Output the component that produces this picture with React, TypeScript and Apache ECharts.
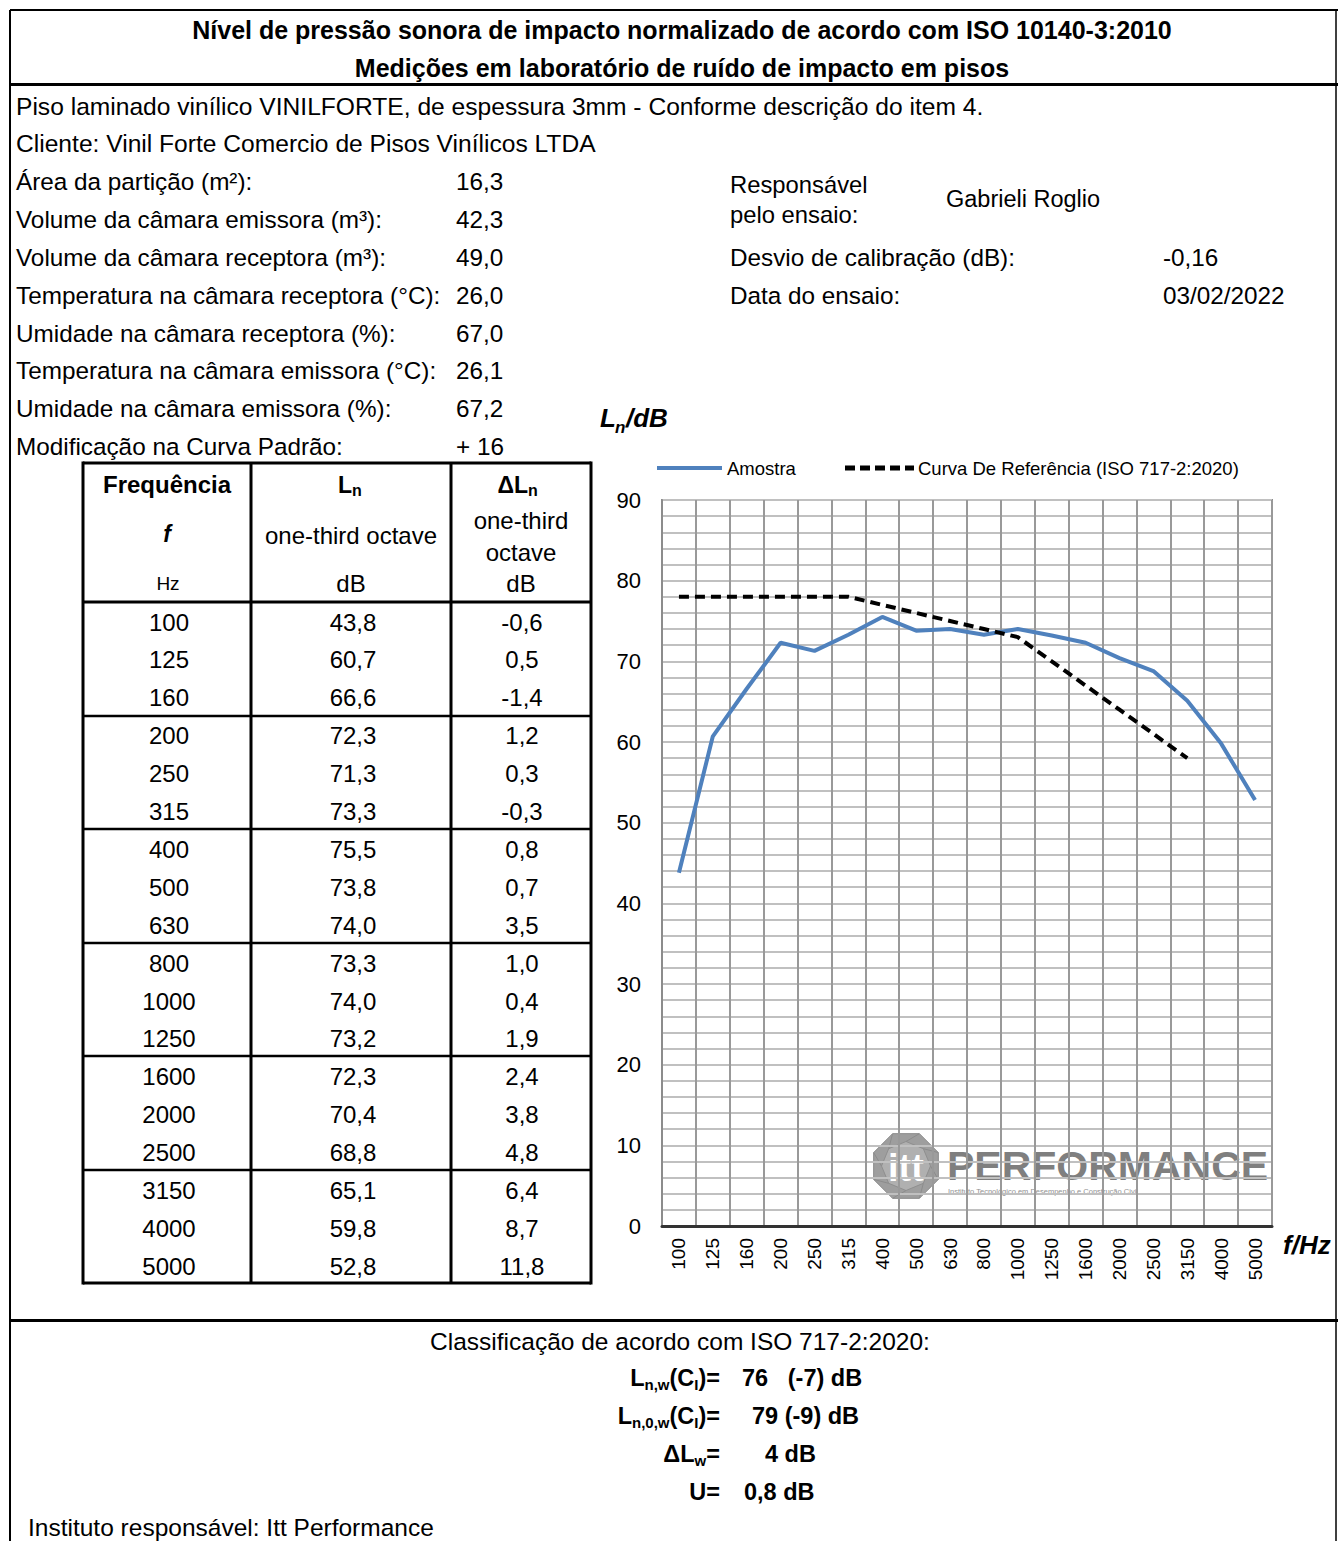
import React, { useEffect, useRef } from 'react';
import * as echarts from 'echarts';

const FONT = '"Liberation Sans", Arial, Helvetica, sans-serif';

const frequencies = ['100', '125', '160', '200', '250', '315', '400', '500', '630', '800', '1000', '1250', '1600', '2000', '2500', '3150', '4000', '5000'];
const lnValues = [43.8, 60.7, 66.6, 72.3, 71.3, 73.3, 75.5, 73.8, 74.0, 73.3, 74.0, 73.2, 72.3, 70.4, 68.8, 65.1, 59.8, 52.8];
const deltaLn = ['-0,6', '0,5', '-1,4', '1,2', '0,3', '-0,3', '0,8', '0,7', '3,5', '1,0', '0,4', '1,9', '2,4', '3,8', '4,8', '6,4', '8,7', '11,8'];
const referenceCurve = [78, 78, 78, 78, 78, 78, 77, 76, 75, 74, 73, 70, 67, 64, 61, 58, null, null];

const infoLabels = [
  'Área da partição (m²):',
  'Volume da câmara emissora (m³):',
  'Volume da câmara receptora (m³):',
  'Temperatura na câmara receptora (°C):',
  'Umidade na câmara receptora (%):',
  'Temperatura na câmara emissora (°C):',
  'Umidade na câmara emissora (%):',
  'Modificação na Curva Padrão:',
];
const infoValues = ['16,3', '42,3', '49,0', '26,0', '67,0', '26,1', '67,2', '+ 16'];

const seriesNames = ['Amostra', 'Curva De Referência (ISO 717-2:2020)'];
const BLUE = '#4f81bd';

type TOpts = { size?: number; bold?: boolean; italic?: boolean; color?: string; align?: string; z?: number; rich?: any; opacity?: number };

function T(text: string, x: number, y: number, o: TOpts = {}) {
  return {
    type: 'text',
    x,
    y,
    silent: true,
    z: o.z ?? 10,
    style: {
      text,
      fontSize: o.size ?? 24.3,
      fontFamily: FONT,
      fontWeight: o.bold ? 'bold' : 'normal',
      fontStyle: o.italic ? 'italic' : 'normal',
      fill: o.color ?? '#000',
      opacity: o.opacity ?? 1,
      align: o.align ?? 'left',
      verticalAlign: 'middle',
      textAlign: o.align ?? 'left',
      textVerticalAlign: 'middle',
      rich: o.rich,
    },
  };
}

function L(x1: number, y1: number, x2: number, y2: number, w: number, color = '#000', dash?: number[]) {
  return { type: 'line', silent: true, z: 10, shape: { x1, y1, x2, y2 }, style: { stroke: color, lineWidth: w, lineDash: dash } };
}

function fmt(v: number) {
  return v.toFixed(1).replace('.', ',');
}

function buildGraphics() {
  const g: any[] = [];
  // frame
  g.push(L(10, 10, 1338, 10, 2));
  g.push(L(10, 10, 10, 1541, 2));
  g.push(L(1336, 10, 1336, 1541, 1.5));
  g.push(L(10, 84.5, 1338, 84.5, 3));
  g.push(L(10, 1320.5, 1338, 1320.5, 3));

  // titles
  g.push(T('Nível de pressão sonora de impacto normalizado de acordo com ISO 10140-3:2010', 682, 30, { bold: true, size: 25, align: 'center' }));
  g.push(T('Medições em laboratório de ruído de impacto em pisos', 682, 68, { bold: true, size: 25, align: 'center' }));

  g.push(T('Piso laminado vinílico VINILFORTE, de espessura 3mm - Conforme descrição do item 4.', 16, 106, { size: 24.6 }));
  g.push(T('Cliente: Vinil Forte Comercio de Pisos Vinílicos LTDA', 16, 143, { size: 24.6 }));
  const infoY = [181, 219, 257, 295, 333, 370, 408, 446];
  infoLabels.forEach((lab, i) => {
    g.push(T(lab, 16, infoY[i]));
    g.push(T(infoValues[i], 456, infoY[i]));
  });
  g.push(T('Responsável', 730, 184, { size: 23.8 }));
  g.push(T('pelo ensaio:', 730, 214, { size: 23.8 }));
  g.push(T('Gabrieli Roglio', 946, 199, { size: 23.5 }));
  g.push(T('Desvio de calibração (dB):', 730, 257));
  g.push(T('-0,16', 1163, 257));
  g.push(T('Data do ensaio:', 730, 295));
  g.push(T('03/02/2022', 1163, 295));

  // table
  const tl = 83, tr = 591, tt = 463, tb = 1283;
  const c1 = 251, c2 = 451;
  g.push(L(tl, tt, tr, tt, 3));
  g.push(L(tl, tb, tr, tb, 3));
  g.push(L(tl, tt - 1.5, tl, tb + 1.5, 3));
  g.push(L(tr, tt - 1.5, tr, tb + 1.5, 3));
  g.push(L(c1, tt, c1, tb, 3));
  g.push(L(c2, tt, c2, tb, 3));
  g.push(L(tl, 602, tr, 602, 3));
  [716, 829, 943, 1056, 1170].forEach((y) => g.push(L(tl, y, tr, y, 2.5)));

  const cx0 = 167, cx1 = 351, cx2 = 521;
  g.push(T('Frequência', cx0, 484, { bold: true, size: 24, align: 'center' }));
  g.push(T('f', cx0, 534, { bold: true, italic: true, size: 23, align: 'center' }));
  g.push(T('Hz', cx0 + 1, 583, { size: 19, align: 'center' }));
  g.push(T('L', 352, 485, { bold: true, size: 23, align: 'right' }));
  g.push(T('n', 352, 490, { bold: true, size: 16, align: 'left' }));
  g.push(T('one-third octave', cx1, 535, { size: 24, align: 'center' }));
  g.push(T('dB', cx1, 583, { size: 24, align: 'center' }));
  g.push(T('ΔL', 528, 485, { bold: true, size: 23, align: 'right' }));
  g.push(T('n', 528, 490, { bold: true, size: 16, align: 'left' }));
  g.push(T('one-third', cx2, 520, { size: 24, align: 'center' }));
  g.push(T('octave', cx2, 552, { size: 24, align: 'center' }));
  g.push(T('dB', cx2, 583, { size: 24, align: 'center' }));

  frequencies.forEach((f, i) => {
    const y = 622 + i * 37.9;
    g.push(T(f, cx0 + 2, y, { size: 24, align: 'center' }));
    g.push(T(fmt(lnValues[i]), cx1 + 2, y, { size: 24, align: 'center' }));
    g.push(T(deltaLn[i], cx2 + 1, y, { size: 24, align: 'center' }));
  });

  // axis names
  g.push(T('L', 600, 418, { bold: true, italic: true, size: 26 }));
  g.push(T('n', 615, 427, { bold: true, italic: true, size: 17 }));
  g.push(T('/dB', 626, 418, { bold: true, italic: true, size: 26 }));
  g.push(T('f/Hz', 1283, 1245, { bold: true, italic: true, size: 26 }));

  // legend (drawn manually)
  g.push(L(657, 468, 722, 468, 4, BLUE));
  g.push(T(seriesNames[0], 727, 468, { size: 18.5 }));
  g.push(L(845, 468, 914, 468, 5, '#000', [10, 5]));
  g.push(T(seriesNames[1], 918, 468, { size: 18.5 }));

  // watermark logo
  const lx = 906, ly = 1166, r = 35;
  const pts: number[][] = [];
  for (let k = 0; k < 8; k++) {
    const a = Math.PI / 8 + (k * Math.PI) / 4;
    pts.push([lx + r * Math.cos(a), ly + r * Math.sin(a)]);
  }
  g.push({ type: 'polygon', silent: true, z: -1, shape: { points: pts }, style: { fill: '#9e9e9e', stroke: '#8a8a8a', lineWidth: 1 } });
  const inner: number[][] = [];
  for (let k = 0; k < 8; k++) {
    const a = (k * Math.PI) / 4;
    inner.push([lx + r * 0.7 * Math.cos(a), ly + r * 0.7 * Math.sin(a)]);
  }
  g.push({ type: 'polygon', silent: true, z: -1, shape: { points: inner }, style: { fill: '#b0b0b0', stroke: '#8f8f8f', lineWidth: 1 } });
  for (let k = 0; k < 8; k++) {
    g.push({ type: 'line', silent: true, z: -1, shape: { x1: pts[k][0], y1: pts[k][1], x2: inner[k][0], y2: inner[k][1] }, style: { stroke: '#8c8c8c', lineWidth: 1 } });
  }
  g.push(T('itt', lx, ly + 2, { bold: true, size: 38, align: 'center', color: '#ffffff', z: -1 }));
  g.push(T('PERFORMANCE', 947, 1166, { bold: true, size: 41, color: '#7f7f7f', z: -1 }));
  g.push(T('Instituto Tecnológico em Desempenho e Construção Civil', 948, 1191, { size: 7.5, color: '#909090', z: -1 }));

  // classification
  g.push(T('Classificação de acordo com ISO 717-2:2020:', 680, 1341, { size: 24.5, align: 'center' }));
  const richB = {
    m: { fontSize: 23.5, fontWeight: 'bold', fontFamily: FONT, lineHeight: 28, verticalAlign: 'middle' },
    s: { fontSize: 15, fontWeight: 'bold', fontFamily: FONT, lineHeight: 15, verticalAlign: 'bottom' },
  };
  g.push(T('{m|L}{s|n,w}{m|(C}{s|I}{m|)=}', 720, 1378, { align: 'right', rich: richB }));
  g.push(T('76   (-7) dB', 742, 1378, { bold: true, size: 23.5 }));
  g.push(T('{m|L}{s|n,0,w}{m|(C}{s|I}{m|)=}', 720, 1416, { align: 'right', rich: richB }));
  g.push(T('79 (-9) dB', 752, 1416, { bold: true, size: 23.5 }));
  g.push(T('{m|ΔL}{s|w}{m|=}', 720, 1454, { align: 'right', rich: richB }));
  g.push(T('4 dB', 765, 1454, { bold: true, size: 23.5 }));
  g.push(T('U=', 720, 1492, { bold: true, size: 23.5, align: 'right' }));
  g.push(T('0,8 dB', 744, 1492, { bold: true, size: 23.5 }));

  g.push(T('Instituto responsável: Itt Performance', 28, 1527, { size: 24.5 }));
  return g;
}

export default function App() {
  const ref = useRef<HTMLDivElement>(null);
  useEffect(() => {
    document.body.style.margin = '0';
    document.body.style.background = '#ffffff';
    const chart = echarts.init(ref.current!, undefined, { renderer: 'svg', width: 1338, height: 1541 });
    chart.setOption({
      animation: false,
      textStyle: { fontFamily: FONT },
      legend: { show: false, data: seriesNames },
      grid: { left: 662, top: 500, width: 610, height: 726, show: true, borderColor: '#8c8c8c', borderWidth: 2, backgroundColor: 'transparent' },
      xAxis: {
        type: 'category',
        data: frequencies,
        boundaryGap: true,
        axisLine: { lineStyle: { color: '#333', width: 3 } },
        axisTick: { show: false },
        axisLabel: { rotate: 90, fontSize: 19, color: '#000', margin: 12, interval: 0, fontFamily: FONT },
        splitLine: { show: true, interval: 0, lineStyle: { color: '#999', width: 2 } },
      },
      yAxis: {
        type: 'value',
        min: 0,
        max: 90,
        interval: 10,
        axisLine: { show: true, lineStyle: { color: '#8c8c8c', width: 2 } },
        axisTick: { show: false },
        axisLabel: { fontSize: 22, color: '#000', margin: 21, fontFamily: FONT },
        splitLine: { show: true, lineStyle: { color: '#c0c0c0', width: 2 } },
        minorTick: { show: false, splitNumber: 5 },
        minorSplitLine: { show: true, lineStyle: { color: '#c0c0c0', width: 2 } },
      },
      series: [
        {
          name: seriesNames[0],
          type: 'line',
          data: lnValues,
          symbol: 'none',
          z: 5,
          lineStyle: { color: BLUE, width: 4 },
          itemStyle: { color: BLUE },
        },
        {
          name: seriesNames[1],
          type: 'line',
          data: referenceCurve,
          symbol: 'none',
          z: 6,
          lineStyle: { color: '#000', width: 4, type: [10, 6] },
          itemStyle: { color: '#000' },
        },
      ],
      graphic: { elements: buildGraphics() },
    });
    return () => chart.dispose();
  }, []);
  return <div ref={ref} style={{ position: 'absolute', left: 0, top: 0, width: 1338, height: 1541 }} />;
}
